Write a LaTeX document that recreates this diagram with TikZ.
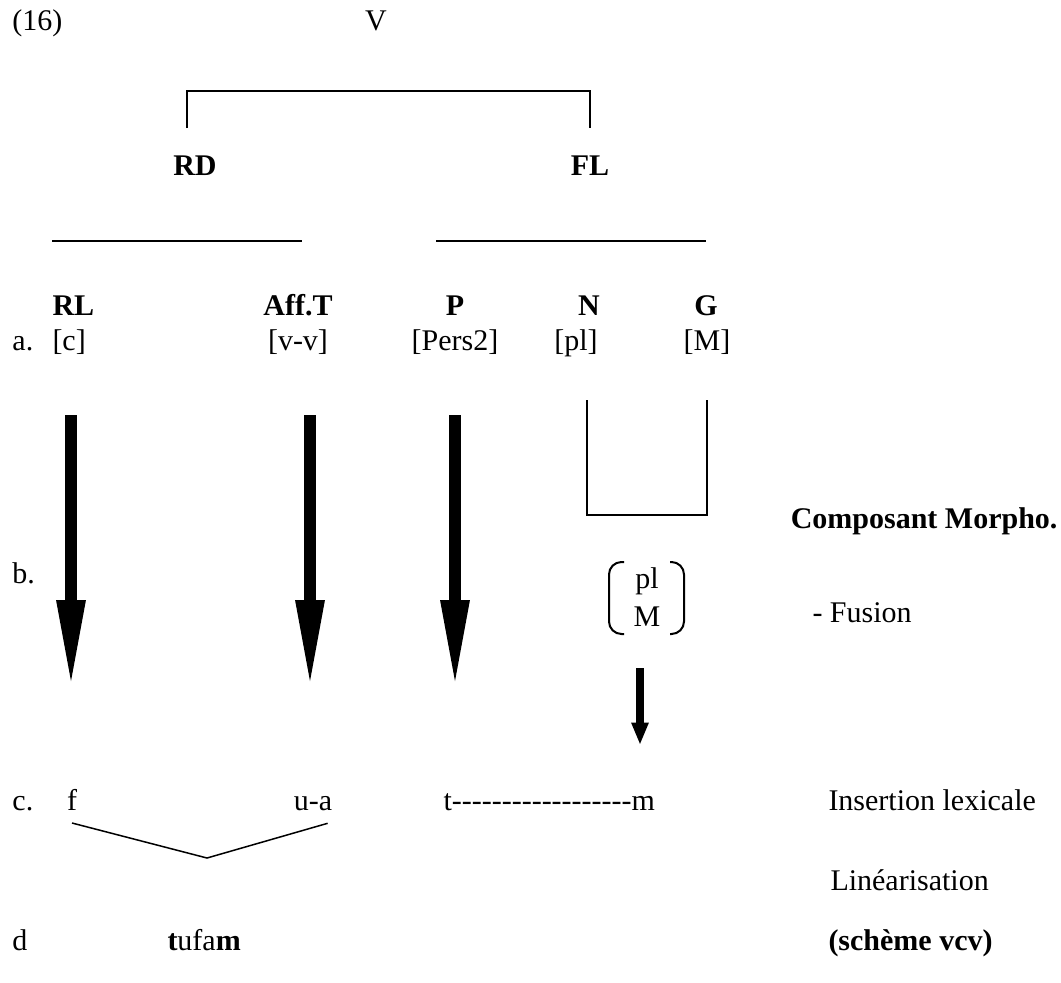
\documentclass[tikz,border=0pt]{standalone}
\usepackage{fontspec}
\setmainfont{Liberation Serif}
\usepackage{tikz}
\usetikzlibrary{positioning,calc,arrows.meta}
\tikzstyle{line} = [draw,thick]
\tikzstyle{lbl} = [inner sep=0pt, anchor=base west]
\tikzstyle{feat} = [inner sep=0pt, anchor=base]
\tikzstyle{cat} = [inner sep=0pt, anchor=base, font=\bfseries]
\tikzstyle{bigarrow} = [line width=4.8pt, -{Triangle[length=36pt,width=10.4pt]}]
\tikzstyle{smallarrow} = [line width=3.2pt, -{Triangle[length=9pt,width=6.4pt]}]
\newcommand{\hyphenrun}[1]{\foreach \k in {1,...,#1}{\hbox{-}}}

\begin{document}
\fontsize{12pt}{14.5pt}\selectfont
\begin{tikzpicture}[x=0.4pt,y=-0.4pt]
           \useasboundingbox (0,0) rectangle (1061,982);
           % tree
           \node[lbl] (num) at (12,30) {(16)};
           \node[feat] (v) at (376,30) {V};
           \coordinate (v-l) at (187,128);
           \coordinate (v-r) at (590,128);
           \path[line] (v-l) -- ++(0,-37) -| (v-r);
           \node[cat] (rd) at (195,175) {RD};
           \node[cat] (fl) at (590,175) {FL};
           \coordinate (rd-l) at (52,241);
           \coordinate (rd-r) at (302,241);
           \coordinate (fl-l) at (436,241);
           \coordinate (fl-r) at (706,241);
           \path[line] (rd-l) -- (rd-r);
           \path[line] (fl-l) -- (fl-r);
           \node[cat, anchor=base west] (rl) at (52,315) {RL};
           \node[cat] (afft) at (298,315) {Aff.T};
           \node[cat] (p) at (455,315) {P};
           \node[cat] (n) at (589,315) {N};
           \node[cat] (g) at (706,315) {G};
           % a.
           \node[lbl] (a) at (12,350) {a.};
           \node[lbl] (rl-a) at (52,350) {[c]};
           \node[feat] (afft-a) at (298,350) {[v-v]};
           \node[feat] (p-a) at (455,350) {[Pers2]};
           \node[feat] (n-a) at (576,350) {[pl]};
           \node[feat] (g-a) at (707,350) {[M]};
           \coordinate (n-top) at (587,400);
           \coordinate (g-top) at (707,400);
           \path[line] (n-top) -- ++(0,115) -| (g-top);
           \node[cat, anchor=base east] (morph) at (1058,528) {Composant Morpho.};
           % b.
           \node[lbl] (b) at (12,583) {b.};
           \node[feat, align=center, anchor=center] (fus) at (647,597) {pl\\[1pt]M};
           \draw[thick, rounded corners=5pt] (624,562) -- (609,562) -- (609,634) -- (624,634);
           \draw[thick, rounded corners=5pt] (670,562) -- (684,562) -- (684,634) -- (670,634);
           \node[lbl] (fusion) at (812,622) {- Fusion};
           \coordinate (rl-top) at (71,415);
           \coordinate (rl-tip) at (71,690);
           \coordinate (afft-top) at (310,415);
           \coordinate (afft-tip) at (310,690);
           \coordinate (p-top) at (455,415);
           \coordinate (p-tip) at (455,690);
           \coordinate (fus-top) at (640,668);
           \coordinate (fus-tip) at (640,745);
           \draw[bigarrow] (rl-top) -- (rl-tip);
           \draw[bigarrow] (afft-top) -- (afft-tip);
           \draw[bigarrow] (p-top) -- (p-tip);
           \draw[smallarrow] (fus-top) -- (fus-tip);
           % c.
           \node[lbl] (c) at (12,810) {c.};
           \node[feat] (f) at (72,810) {f};
           \node[feat] (ua) at (313,810) {u-a};
           \node[lbl] (tm) at (443,810) {t\hyphenrun{18}m};
           \node[lbl] (ins) at (828,810) {Insertion lexicale};
           \coordinate (join) at (207,858);
           \draw[semithick] ([yshift=-5pt]f.south) -- (join) -- ([xshift=-2pt,yshift=-5pt]ua.south east);
           \node[lbl] (lin) at (830,890) {Linéarisation};
           % d
           \node[lbl] (d) at (12,950) {d};
           \node[lbl] (tufam) at (167,950) {\textbf{t}ufa\textbf{m}};
           \node[lbl, font=\bfseries] (scheme) at (828,950) {(schème vcv)};
\end{tikzpicture}
\end{document}
